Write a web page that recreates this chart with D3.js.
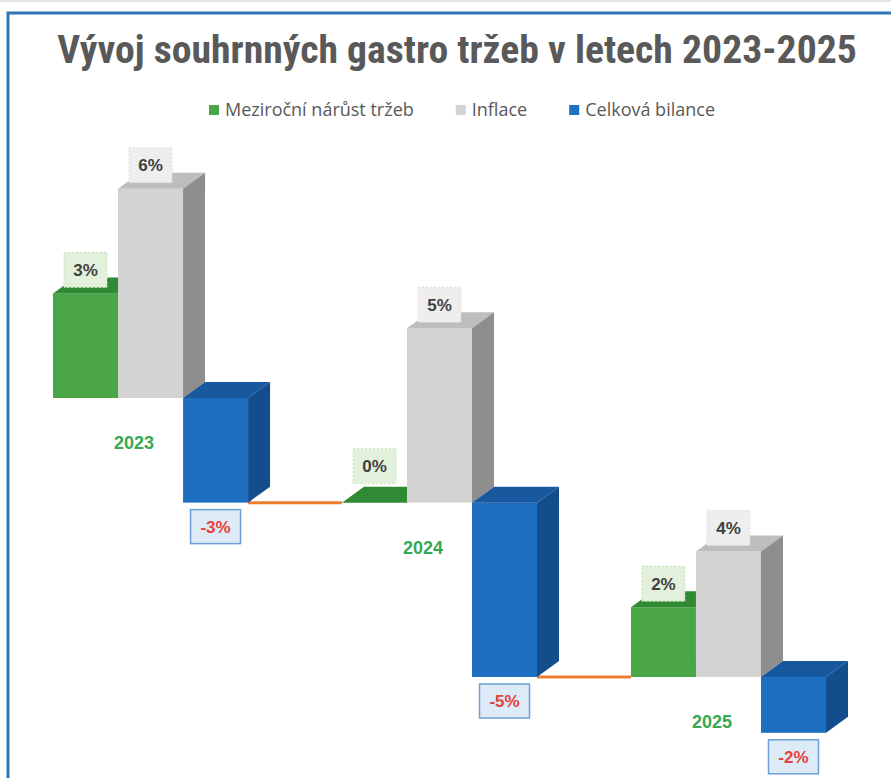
<!DOCTYPE html>
<html>
<head>
<meta charset="utf-8">
<script src="https://cdn.jsdelivr.net/npm/d3@7"></script>
<style>
  html, body { margin: 0; padding: 0; background: #fff; }
  svg { display: block; }
</style>
</head>
<body>
<svg id="chart" width="891" height="778"></svg>
<script>
const years = ["2023", "2024", "2025"];
const seriesNames = ["Meziroční nárůst tržeb", "Inflace", "Celková bilance"];
const growth = [3, 0, 2];
const inflation = [6, 5, 3.6];
const balance = [-3, -5, -1.6];

const svg = d3.select("#chart");
const condensed = "'Roboto Condensed', 'Liberation Sans Narrow', 'Arial Narrow', 'DejaVu Sans Condensed', sans-serif";
const bold = "'Liberation Sans', Arial, sans-serif";

// frame
svg.append("line").attr("x1", 0).attr("x2", 891).attr("y1", 1).attr("y2", 1)
  .attr("stroke", "#e4e4e4").attr("stroke-width", 2);
svg.append("path").attr("d", "M8,778 V13 H891")
  .attr("fill", "none").attr("stroke", "#2e75b6").attr("stroke-width", 3);

// title
const title = svg.append("text")
  .attr("x", 457).attr("y", 63)
  .attr("text-anchor", "middle")
  .style("font-family", condensed)
  .style("font-weight", "bold")
  .style("font-size", "34px")
  .attr("fill", "#595959")
  .text("Vývoj souhrnných gastro tržeb v letech 2023-2025");
const tw = title.node().getComputedTextLength();
title.style("font-size", Math.min(40, 34 * 800 / tw) + "px");

// colours
const colors = {
  "Meziroční nárůst tržeb": { front: "#4aa647", top: "#2f8a33", side: "#2c7a2e" },
  "Inflace": { front: "#d3d3d3", top: "#bdbdbd", side: "#8e8e8e" },
  "Celková bilance": { front: "#1f6fc1", top: "#17589f", side: "#134d8c" },
};

// legend
const legend = svg.append("g");
const gap = 42;
let lx = 0;
seriesNames.forEach((s) => {
  const item = legend.append("g").attr("transform", `translate(${lx},0)`);
  item.append("rect").attr("x", 0).attr("y", -5).attr("width", 10).attr("height", 10)
    .attr("fill", colors[s].front);
  const t = item.append("text").attr("x", 16).attr("y", 6)
    .style("font-family", "'Open Sans', 'Noto Sans', sans-serif").style("font-size", "18px")
    .attr("fill", "#595959").text(s);
  lx += 16 + t.node().getComputedTextLength() + gap;
});
lx -= gap;
legend.attr("transform", `translate(${462 - lx / 2},110)`);

// scales
const base = [0, ...d3.cumsum(balance)].slice(0, years.length);
const y = d3.scaleLinear().domain([0, -8]).range([398, 677]);
const x = d3.scaleBand().domain(years).range([53, 826]).paddingInner(0.325).paddingOuter(0);
const xs = d3.scaleBand().domain(seriesNames).range([0, x.bandwidth()]).padding(0);
const dx = 22, dy = 16;
const fmt = (v) => d3.format(".0f")(v).replace("\u2212", "-") + "%";

const bars = [];
years.forEach((yr, i) => {
  const vals = [growth[i], inflation[i], balance[i]];
  seriesNames.forEach((s, j) => {
    const v = vals[j];
    bars.push({ year: yr, series: s, value: v, y0: base[i], y1: base[i] + v, i, j });
  });
});

// connector lines
const lines = svg.append("g");
years.slice(0, -1).forEach((yr, i) => {
  lines.append("line")
    .attr("x1", x(yr) + xs(seriesNames[2]) + xs.bandwidth())
    .attr("x2", x(years[i + 1]))
    .attr("y1", y(base[i + 1])).attr("y2", y(base[i + 1]))
    .attr("stroke", "#ed7d31").attr("stroke-width", 3);
});

// 3D bars
const barG = svg.append("g");
bars.forEach((d) => {
  const x0 = x(d.year) + xs(d.series);
  const x1 = x0 + xs.bandwidth();
  const yt = Math.min(y(d.y0), y(d.y1));
  const yb = Math.max(y(d.y0), y(d.y1));
  const c = colors[d.series];
  const g = barG.append("g");
  g.append("rect").attr("x", x0).attr("y", yt).attr("width", x1 - x0).attr("height", yb - yt)
    .attr("fill", c.front);
  g.append("path")
    .attr("d", `M${x0},${yt} L${x0 + dx},${yt - dy} L${x1 + dx},${yt - dy} L${x1},${yt} Z`)
    .attr("fill", c.top);
  g.append("path")
    .attr("d", `M${x1},${yt} L${x1 + dx},${yt - dy} L${x1 + dx},${yb - dy} L${x1},${yb} Z`)
    .attr("fill", c.side);
});

// year labels
svg.append("g").selectAll("text").data(years).join("text")
  .attr("x", (d) => x(d) + 81)
  .attr("y", (d, i) => y(base[i]) + 51)
  .attr("text-anchor", "middle")
  .style("font-family", bold).style("font-weight", "bold").style("font-size", "18px")
  .attr("fill", "#37a853")
  .text((d) => d);

// data labels
const labelG = svg.append("g");
bars.forEach((d) => {
  const cx = x(d.year) + xs(d.series) + xs.bandwidth() / 2;
  let w, h, top, bg, stroke, dash, color;
  if (d.j === 2) {
    w = 50; h = 34; top = y(d.y1) + 7;
    bg = "#ddebf7"; stroke = "#6e9fd6"; dash = null; color = "#e8403a";
  } else {
    w = 43; h = 35;
    top = y(d.y1) - (d.value === 0 ? 19 : 6) - h;
    bg = d.j === 0 ? "#e3f0db" : "#eeeeee";
    stroke = d.j === 0 ? "#c8e0b8" : "#dcdcdc"; dash = "2,2"; color = "#404040";
  }
  labelG.append("rect").attr("x", cx - w / 2).attr("y", top).attr("width", w).attr("height", h)
    .attr("fill", bg).attr("stroke", stroke).attr("stroke-width", d.j === 2 ? 1.5 : 1)
    .attr("stroke-dasharray", dash);
  labelG.append("text").attr("x", cx).attr("y", top + h / 2 + 6)
    .attr("text-anchor", "middle")
    .style("font-family", bold).style("font-weight", "bold").style("font-size", "17px")
    .attr("fill", color)
    .text(fmt(d.value));
});
</script>
</body>
</html>
